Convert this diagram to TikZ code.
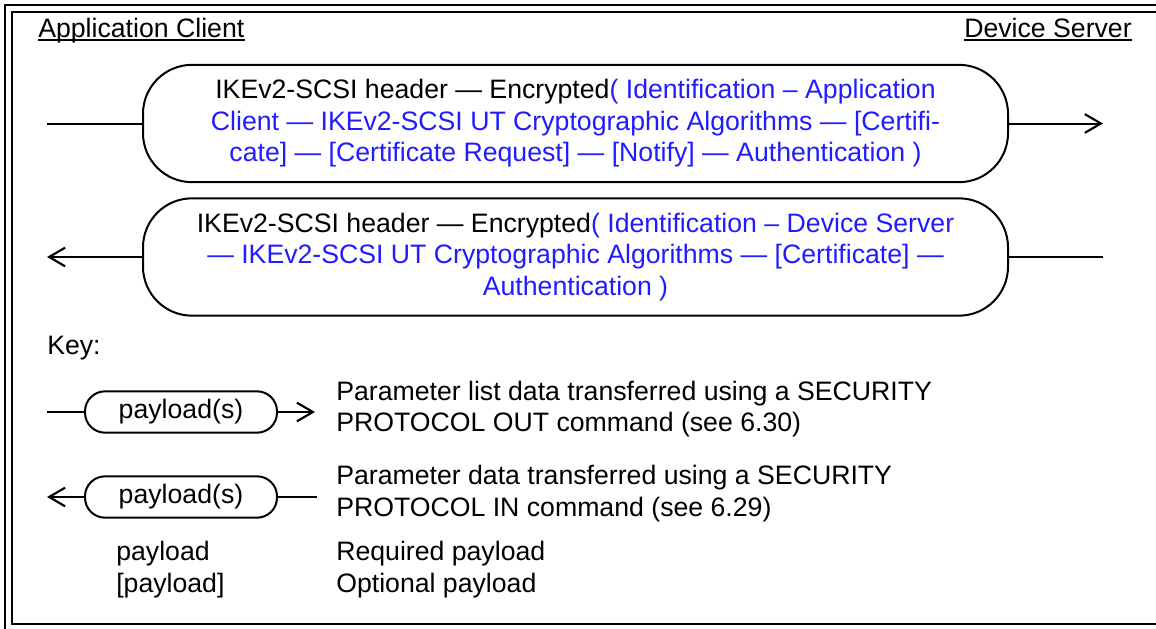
\documentclass[tikz,border=0pt]{standalone}
\usepackage{fontspec}
\setmainfont{Liberation Sans}
\usetikzlibrary{arrows.meta}
\definecolor{pblue}{RGB}{32,28,255}
\begin{document}
\begin{tikzpicture}[x=0.75pt,y=-0.75pt,
  every node/.style={font=\fontsize{20pt}{23.6pt}\selectfont},
  ln/.style={line width=1.5pt},
  tip/.style={-{Straight Barb[length=12pt,width=14pt,line width=1.6pt]}},
  bigbox/.style={draw,line width=1.5pt,rounded corners=36.75pt,minimum width=648.75pt,minimum height=88pt,inner sep=0pt,align=center},
  keybox/.style={draw,line width=1.5pt,rounded corners=15pt,minimum width=144pt,minimum height=31pt,inner sep=0pt},
  lbl/.style={inner sep=0pt,anchor=base west},
  ul/.style={line width=1.3pt}]
\useasboundingbox (0,0) rectangle (1156,628);
\clip (0,0) rectangle (1156,628);
% frame
\draw[line width=1.5pt] (5,5) rectangle (1175,645);
\draw[line width=1.5pt] (12,12) rectangle (1165,624);
% headers
\node[lbl] (ac) at (38,37) {Application Client};
\node[inner sep=0pt,anchor=base east] (ds) at (1132,37) {Device Server};
\draw[ul] ([yshift=-2pt]ac.base west) -- ([yshift=-2pt]ac.base east);
\draw[ul] ([yshift=-2pt]ds.base west) -- ([yshift=-2pt]ds.base east);
% box 1
\node[bigbox] (b1) at (575.5,123.5) {IKEv2-SCSI header --- Encrypted{\color{pblue}( Identification -- Application}\\
{\color{pblue}Client --- IKEv2-SCSI UT Cryptographic Algorithms --- [Certifi-}\\
{\color{pblue}cate] --- [Certificate Request] --- [Notify] --- Authentication )}};
\coordinate (s1) at (47,123.5);
\coordinate (e1) at (1103,123.5);
\draw[ln] (s1) -- (b1.west);
\draw[ln,tip] (b1.east) -- (e1);
% box 2
\node[bigbox] (b2) at (575.5,257) {IKEv2-SCSI header --- Encrypted{\color{pblue}( Identification -- Device Server}\\
{\color{pblue}--- IKEv2-SCSI UT Cryptographic Algorithms --- [Certificate] ---}\\
{\color{pblue}Authentication )}};
\coordinate (s2) at (1103,257);
\coordinate (e2) at (47,257);
\draw[ln] (s2) -- (b2.east);
\draw[ln,tip] (b2.west) -- (e2);
% key
\node[lbl] (key) at (47,354) {Key:};
\node[keybox] (k1) at (181,412) {payload(s)};
\coordinate (k1s) at (47,412);
\coordinate (k1e) at (315,412);
\draw[ln] (k1s) -- (k1.west);
\draw[ln,tip] (k1.east) -- (k1e);
\node[keybox] (k2) at (181,497) {payload(s)};
\coordinate (k2s) at (317,497);
\coordinate (k2e) at (47,497);
\draw[ln] (k2s) -- (k2.east);
\draw[ln,tip] (k2.west) -- (k2e);
\node[lbl] (t1a) at (336,400) {Parameter list data transferred using a SECURITY};
\node[lbl] (t1b) at (336,431.5) {PROTOCOL OUT command (see 6.30)};
\node[lbl] (t2a) at (336,484.5) {Parameter data transferred using a SECURITY};
\node[lbl] (t2b) at (336,516) {PROTOCOL IN command (see 6.29)};
\node[lbl] (p1) at (116,560) {payload};
\node[lbl] (r1) at (336,560) {Required payload};
\node[lbl] (p2) at (116,592) {[payload]};
\node[lbl] (o2) at (336,592) {Optional payload};
\end{tikzpicture}
\end{document}
